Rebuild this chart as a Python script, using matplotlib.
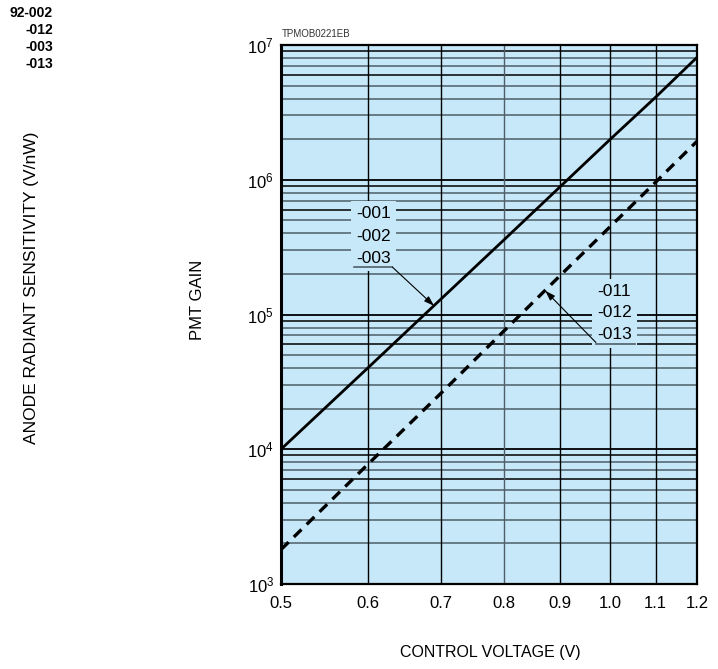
import matplotlib
matplotlib.use("Agg")
import matplotlib.pyplot as plt
from matplotlib.ticker import NullLocator, FixedLocator

plt.rcParams['font.family'] = ['Liberation Sans', 'DejaVu Sans']
plt.rcParams['mathtext.default'] = 'regular'

# data
voltage = [0.5, 0.6, 0.7, 0.8, 0.9, 1.0, 1.1, 1.2]
gain_00x = [1.0e4, 4.0e4, 1.3e5, 3.6e5, 8.9e5, 2.0e6, 4.1e6, 8.1e6]   # -001/-002/-003
gain_01x = [1.8e3, 7.7e3, 2.6e4, 7.6e4, 1.95e5, 4.5e5, 9.6e5, 1.93e6]  # -011/-012/-013

x_ticks = [0.5, 0.6, 0.7, 0.8, 0.9, 1.0, 1.1, 1.2]
x_labels = ['0.5', '0.6', '0.7', '0.8', '0.9', '1.0', '1.1', '1.2']
y_decades = [1e3, 1e4, 1e5, 1e6, 1e7]
y_labels = ['$10^{3}$', '$10^{4}$', '$10^{5}$', '$10^{6}$', '$10^{7}$']

labels_00x = ['-001', '-002', '-003']
labels_01x = ['-011', '-012', '-013']

BG = '#c6e8f8'
GRAY = '#4f5e69'

fig = plt.figure(figsize=(7.18, 6.69), dpi=100)
ax = fig.add_axes([281/718, 1 - 584/669, 416/718, 539/669])
ax.set_facecolor(BG)
ax.set_xscale('log')
ax.set_yscale('log')
ax.set_xlim(0.5, 1.2)
ax.set_ylim(1e3, 1e7)

# grid lines
for d in y_decades[:-1]:
    for k in range(2, 10):
        col = 'black' if k in (6, 9) else GRAY
        ax.axhline(d * k, color=col, lw=1.1, zorder=1)
for d in y_decades:
    ax.axhline(d, color='black', lw=1.3, zorder=1)
for v in x_ticks[1:-1]:
    col = GRAY if v == 0.8 else 'black'
    ax.axvline(v, color=col, lw=1.0, zorder=1)

ax.plot(voltage, gain_00x, color='black', lw=2.0, zorder=3)
ax.plot(voltage, gain_01x, color='black', lw=2.4, dashes=(3.2, 2.2), zorder=3)

ax.xaxis.set_major_locator(FixedLocator(x_ticks))
ax.xaxis.set_minor_locator(NullLocator())
ax.set_xticklabels(x_labels)
ax.yaxis.set_major_locator(FixedLocator(y_decades))
ax.yaxis.set_minor_locator(NullLocator())
ax.set_yticklabels(y_labels)
ax.tick_params(axis='both', length=0, labelsize=12)
ax.tick_params(axis='x', pad=9)
ax.tick_params(axis='y', pad=5)
for s in ax.spines.values():
    s.set_linewidth(1.6)
ax.spines['left'].set_linewidth(2.2)

# series labels with leader arrows
box = dict(boxstyle='square,pad=0.3', fc=BG, ec='none')
for lab, yv in zip(labels_00x, [5.57e5, 3.76e5, 2.62e5]):
    ax.text(0.607, yv, lab, ha='center', va='center', fontsize=12.5, bbox=box, zorder=4)
ax.plot([0.583, 0.632], [2.25e5, 2.25e5], color=GRAY, lw=1.2, zorder=4)
ax.annotate('', xy=(0.69, 1.16e5), xytext=(0.632, 2.25e5),
            arrowprops=dict(arrowstyle='-|>,head_length=0.6,head_width=0.2',
                            color='black', lw=0.8, shrinkA=0, shrinkB=0), zorder=4)

for lab, yv in zip(labels_01x, [1.47e5, 1.03e5, 7.05e4]):
    ax.text(1.008, yv, lab, ha='center', va='center', fontsize=12.5, bbox=box, zorder=4)
ax.plot([0.970, 1.053], [6.04e4, 6.04e4], color=GRAY, lw=1.2, zorder=4)
ax.annotate('', xy=(0.872, 1.5e5), xytext=(0.970, 6.2e4),
            arrowprops=dict(arrowstyle='-|>,head_length=0.6,head_width=0.2',
                            color='black', lw=0.8, shrinkA=0, shrinkB=0), zorder=4)

ax.text(0.003, 1.012, 'TPMOB0221EB', transform=ax.transAxes, fontsize=7,
        color='#333333', ha='left', va='bottom')

fig.text(198/718, 1 - 300/669, 'PMT GAIN', rotation=90, ha='center', va='center', fontsize=12)
fig.text(490/718, 1 - 653/669, 'CONTROL VOLTAGE (V)', ha='center', va='center', fontsize=11.5)
fig.text(32/718, 1 - 288/669, 'ANODE RADIANT SENSITIVITY (V/nW)', rotation=90,
         ha='center', va='center', fontsize=12.5)

# clipped labels from the neighbouring chart
for s, yp in zip(['92-002', '-012', '-003', '-013'], [13, 30, 47, 64]):
    fig.text(53/718, 1 - yp/669, s, ha='right', va='center', fontsize=10, fontweight='bold')

fig.savefig('out.png', dpi=100)
